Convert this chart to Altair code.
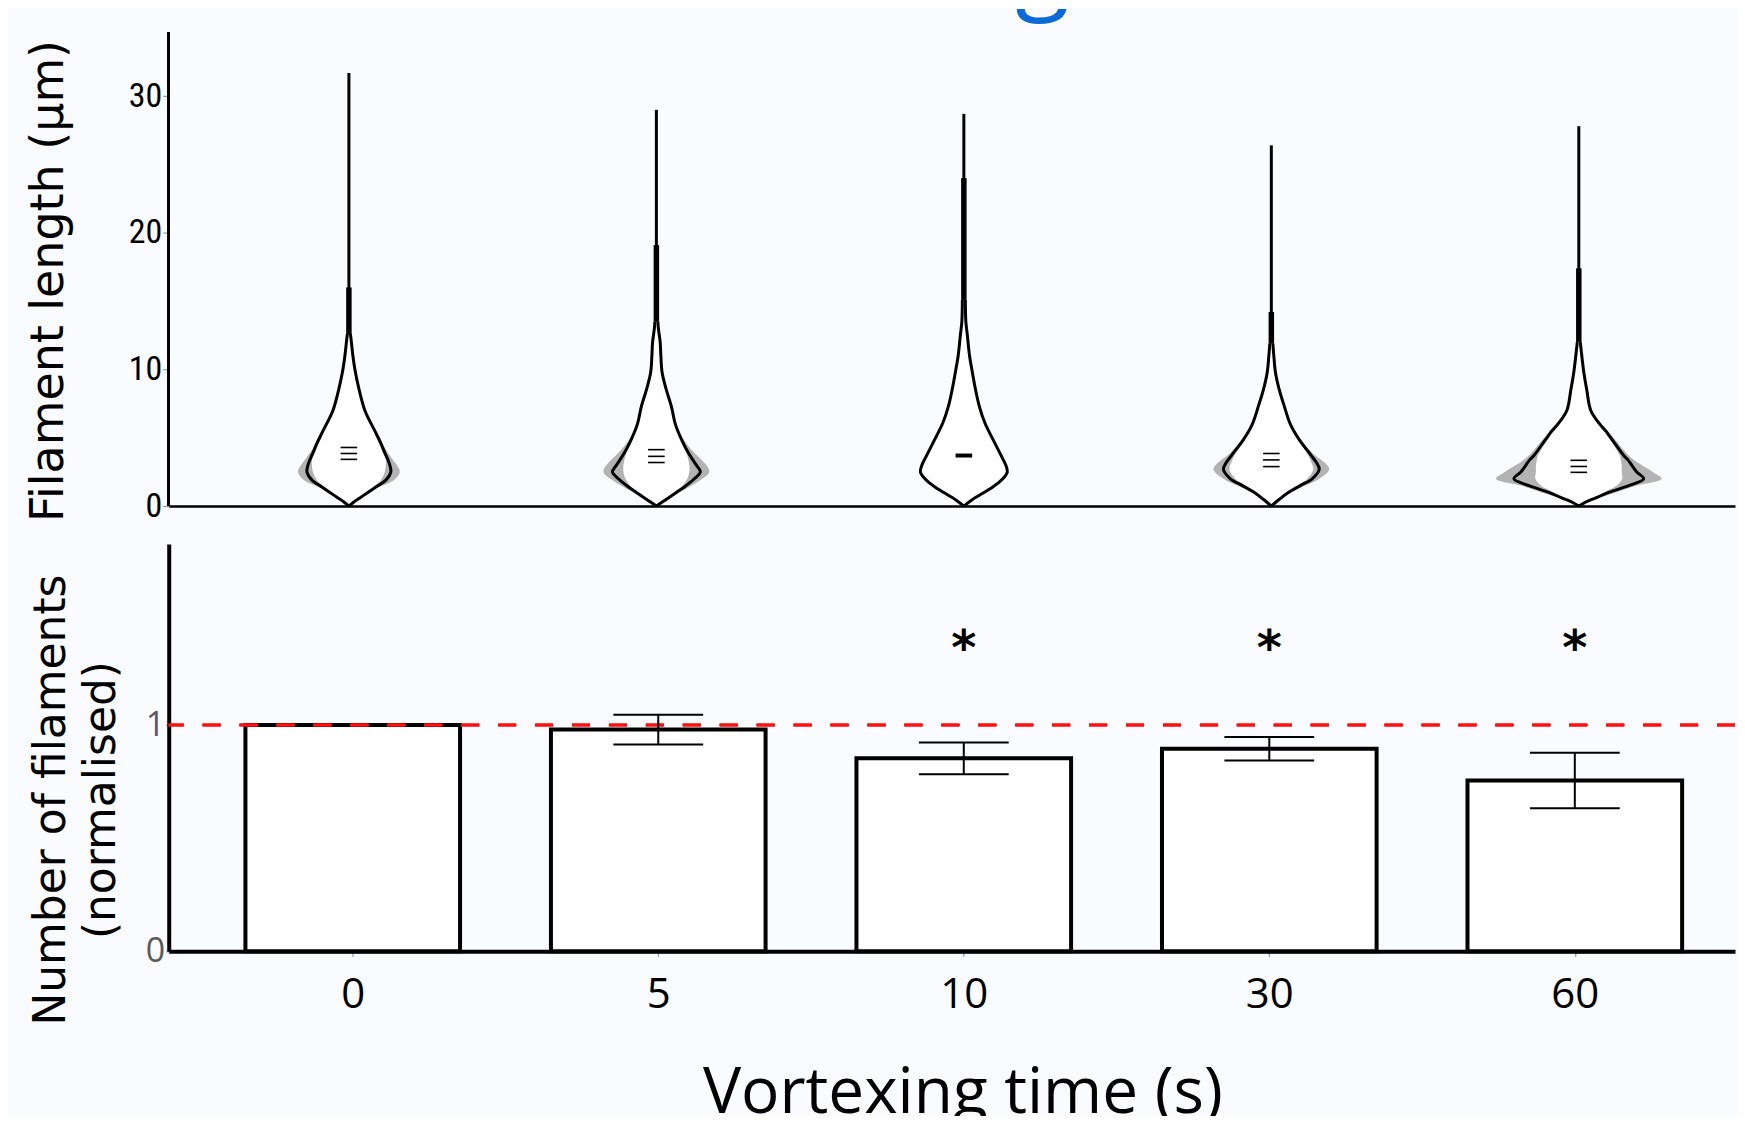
import json
import altair as alt
import pandas as pd

# ---------------- data ----------------
TIMES = ["0", "5", "10", "30", "60"]

# violin profiles: filament length (µm) and half-widths (relative density units)
V_Y = [
    [0, 0.3, 0.65, 1.0, 1.4, 1.9, 2.5, 3.0, 3.4, 3.9, 4.6, 5.5, 7.0, 8.6, 10.0, 11.0, 12.0, 12.6],
    [0, 0.45, 1.0, 1.4, 2.0, 2.5, 3.0, 3.9, 4.9, 6.0, 7.3, 8.5, 9.8, 11.0, 12.0, 13.0, 13.5],
    [0, 0.45, 1.4, 2.0, 2.5, 3.0, 3.6, 4.9, 6.1, 7.3, 8.6, 9.8, 11.0, 12.5, 13.5, 15.1],
    [0, 0.5, 1.0, 1.5, 2.0, 2.7, 3.2, 3.7, 4.9, 6.0, 7.35, 8.5, 9.8, 11.0, 11.9],
    [0, 0.3, 0.6, 1.0, 1.5, 2.0, 2.5, 3.0, 3.4, 3.7, 4.9, 5.5, 6.0, 7.0, 8.5, 9.8, 11.0, 12.0],
]
V_MID = [
    [0, 5, 12, 19, 27, 37, 42, 41, 39, 36, 32, 26, 16, 10, 6, 4, 2.5, 1.5],
    [0, 9, 20, 28, 38, 44, 40, 32, 25, 19, 15, 10, 5.7, 4.5, 3.8, 2, 1.5],
    [0, 8, 29, 39, 43.5, 42, 38, 29, 21, 15.5, 11.5, 8.5, 5.7, 3.5, 2, 1.5],
    [0, 8, 17, 29, 41, 48, 45, 40, 27.6, 19, 12.8, 8, 4.1, 2.5, 1.5],
    [0, 7, 17, 30, 50, 65, 58, 53, 49, 45, 33, 27, 21, 12, 8, 5, 3, 1.5],
]
V_LO = [
    [0, 5, 12, 18, 25, 32, 36, 37, 37, 34, 30, 25, 16, 10, 6, 4, 2.5, 1.5],
    [0, 9, 18, 25, 31, 33, 33, 30, 24, 19, 15, 10, 5.7, 4.5, 3.8, 2, 1.5],
    [0, 8, 29, 39, 43.5, 42, 38, 29, 21, 15.5, 11.5, 8.5, 5.7, 3.5, 2, 1.5],
    [0, 8, 16, 26, 36, 42, 40, 37, 27, 19, 12.8, 8, 4.1, 2.5, 1.5],
    [0, 6, 15, 25, 38, 43.5, 43, 43, 42, 41, 31, 25, 19, 11, 7, 5, 3, 1.5],
]
V_HI = [
    [0, 6, 13, 21, 30, 45, 51, 48, 44, 39, 33, 27, 17, 10, 6, 4, 2.5, 1.5],
    [0, 10, 23, 33, 46, 53, 50, 38, 27, 20, 15, 10, 5.7, 4.5, 3.8, 2, 1.5],
    [0, 8, 29, 39, 44.5, 42.5, 38, 29, 21, 15.5, 11.5, 8.5, 5.7, 3.5, 2, 1.5],
    [0, 9, 19, 34, 48, 58, 53, 44, 29, 20, 13, 8, 4.1, 2.5, 1.5],
    [0, 8, 20, 37, 58, 83, 74, 63, 55, 50, 36, 29, 23, 13, 9, 5, 3, 1.5],
]
V_MAX = [31.7, 29.0, 28.7, 26.4, 27.8]
V_THICK_LO = [12.6, 13.5, 15.1, 11.9, 12.0]
V_THICK_HI = [16.0, 19.1, 24.0, 14.2, 17.4]
V_MARKS = [[4.29, 3.85, 3.42], [4.13, 3.64, 3.19], [3.7], [3.85, 3.38, 2.89], [3.35, 2.9, 2.47]]

BAR_MEAN = [1.0, 0.98, 0.853, 0.895, 0.755]
BAR_ERR = [0.0, 0.066, 0.07, 0.052, 0.123]
SIGNIF = ["", "", "*", "*", "*"]

TITLE_FRAGMENT = "g"

# ---------------- tables ----------------
rows = []
for i in range(len(TIMES)):
    for y, m, lo, hi in zip(V_Y[i], V_MID[i], V_LO[i], V_HI[i]):
        rows.append({"idx": i, "len": y, "mid": m, "lo": lo, "hi": hi})
violin = pd.DataFrame(rows)

whisk = pd.DataFrame({
    "idx": list(range(len(TIMES))),
    "ptop": [v[-1] for v in V_Y],
    "vmax": V_MAX,
    "tlo": V_THICK_LO,
    "thi": V_THICK_HI,
})

mk_rows = []
for i, vals in enumerate(V_MARKS):
    for v in vals:
        mk_rows.append({"idx": i, "my": v, "single": len(vals) == 1})
marks = pd.DataFrame(mk_rows)

bars = pd.DataFrame({
    "idx": list(range(len(TIMES))),
    "mean": BAR_MEAN,
    "err": BAR_ERR,
    "sig": SIGNIF,
})

# ---------------- scales / styles ----------------
K = 1 / 308.0          # density unit -> x units
XDOM = [-0.586, 4.508]
xscale = alt.Scale(domain=XDOM, nice=False, zero=False)
Y1DOM = [0, 36.38]
Y1_AXIS_TOP = 34.7
W = 1569
H1 = 498
H2 = 408
BG = "#fafbfe"
CURVE = "catmull-rom"
NARROW = "Roboto Condensed, Liberation Sans Narrow, DejaVu Sans Condensed, Roboto, sans-serif"

top_x_axis = alt.Axis(labels=False, ticks=False, title=None, grid=False,
                      domain=True, domainColor="black", domainWidth=2.5)
y1scale = alt.Scale(domain=Y1DOM, nice=False, zero=True)
y_top_axis = alt.Axis(values=[0, 10, 20, 30], domain=False, grid=False,
                      tickSize=6, tickColor="#888888", tickWidth=1,
                      labelFont=NARROW, labelFontSize=34,
                      labelColor="black", labelPadding=1,
                      title="Filament length (µm)", titleFont="DejaVu Sans",
                      titleFontSize=46, titleFontWeight="normal", titleColor="black",
                      titleX=-120, titleY=272, titleAngle=270,
                      titleAlign="center", titleBaseline="middle")

vbase = alt.Chart(violin).transform_calculate(
    xl_hi=f"datum.idx - datum.hi*{K}", xr_hi=f"datum.idx + datum.hi*{K}",
    xl_lo=f"datum.idx - datum.lo*{K}", xr_lo=f"datum.idx + datum.lo*{K}",
    xl_mid=f"datum.idx - datum.mid*{K}", xr_mid=f"datum.idx + datum.mid*{K}",
)

yv = alt.Y("len:Q", scale=y1scale, axis=y_top_axis)

gray = vbase.mark_area(orient="horizontal", color="#b3b3b3", interpolate=CURVE).encode(
    y=yv, x=alt.X("xl_hi:Q", scale=xscale, axis=top_x_axis), x2="xr_hi:Q", detail="idx:N")
white = vbase.mark_area(orient="horizontal", color="white", interpolate=CURVE).encode(
    y="len:Q", x=alt.X("xl_lo:Q", scale=xscale), x2="xr_lo:Q", detail="idx:N")
left = vbase.mark_line(color="black", strokeWidth=3, interpolate=CURVE).encode(
    y="len:Q", x=alt.X("xl_mid:Q", scale=xscale), detail="idx:N", order="len:Q")
right = vbase.mark_line(color="black", strokeWidth=3, interpolate=CURVE).encode(
    y="len:Q", x=alt.X("xr_mid:Q", scale=xscale), detail="idx:N", order="len:Q")

thin = alt.Chart(whisk).mark_rule(color="black", strokeWidth=3).encode(
    x=alt.X("idx:Q", scale=xscale), y="ptop:Q", y2="vmax:Q")
thick = alt.Chart(whisk).mark_rule(color="black", strokeWidth=5.5).encode(
    x=alt.X("idx:Q", scale=xscale), y="tlo:Q", y2="thi:Q")

mbase = alt.Chart(marks).transform_calculate(
    ml="datum.idx - 0.027", mr="datum.idx + 0.027")
m3 = mbase.transform_filter("!datum.single").mark_rule(color="black", strokeWidth=1.6).encode(
    x=alt.X("ml:Q", scale=xscale), x2="mr:Q", y="my:Q")
m1 = mbase.transform_filter("datum.single").mark_rule(color="black", strokeWidth=4).encode(
    x=alt.X("ml:Q", scale=xscale), x2="mr:Q", y="my:Q")

yaxis_line = alt.Chart(whisk).mark_rule(color="black", strokeWidth=2.5).encode(
    x=alt.value(0), y=alt.datum(0), y2=alt.datum(Y1_AXIS_TOP))

frag = alt.Chart(whisk).transform_aggregate(n="count()").mark_text(
    text=TITLE_FRAGMENT, font="Open Sans", fontSize=100, color="#0b6ad6",
    baseline="alphabetic", align="center", clip=True
).encode(x=alt.datum(2.255), y=alt.datum(37.05))

top = alt.layer(gray, white, left, right, thin, thick, m3, m1, yaxis_line, frag).properties(
    width=W, height=H1)

# ---------------- bottom panel ----------------
label_expr = f"{json.dumps(TIMES)}[datum.value]"
x_bot = alt.X("idx:Q", scale=xscale,
              axis=alt.Axis(values=list(range(len(TIMES))), labelExpr=label_expr,
                            grid=False, domainColor="black", domainWidth=4,
                            tickColor="#888888", tickWidth=1, tickSize=5,
                            labelFont="Open Sans", labelFontSize=42, labelColor="black",
                            labelPadding=18,
                            title="Vortexing time (s)", titleFont="Open Sans",
                            titleFontSize=64, titleFontWeight="normal", titleColor="black",
                            titleX=795, titleAlign="center",
                            titlePadding=46))
y2scale = alt.Scale(domain=[0, 1.8], nice=False)
y_bot = alt.Y("mean:Q", scale=y2scale,
              axis=alt.Axis(values=[0, 1], format="d", grid=False,
                            domainColor="black", domainWidth=4,
                            tickSize=3, tickColor="#888888", tickWidth=1,
                            labelFont="Open Sans", labelFontSize=34, labelColor="#5a5a5a",
                            labelPadding=1,
                            title=["Number of filaments", "(normalised)"],
                            titleFont="DejaVu Sans", titleFontSize=44,
                            titleFontWeight="normal", titleColor="black",
                            titleLineHeight=50,
                            titleX=-117, titleY=256, titleAngle=270,
                            titleAlign="center", titleBaseline="middle"))

bbase = alt.Chart(bars)
barm = bbase.mark_bar(size=215, fill="white", stroke="black", strokeWidth=4).encode(
    x=x_bot, y=y_bot)
ref = bbase.mark_rule(color="#ff1010", strokeWidth=2.5, strokeDash=[18, 19]).encode(
    y=alt.datum(1))
ebase = bbase.transform_filter("datum.err > 0").transform_calculate(
    lo="datum.mean - datum.err", hi="datum.mean + datum.err",
    cl="datum.idx - 0.147", cr="datum.idx + 0.147")
evert = ebase.mark_rule(color="black", strokeWidth=2).encode(
    x=alt.X("idx:Q", scale=xscale), y="lo:Q", y2="hi:Q")
ecap_hi = ebase.mark_rule(color="black", strokeWidth=2).encode(
    x=alt.X("cl:Q", scale=xscale), x2="cr:Q", y="hi:Q")
ecap_lo = ebase.mark_rule(color="black", strokeWidth=2).encode(
    x=alt.X("cl:Q", scale=xscale), x2="cr:Q", y="lo:Q")
stars = bbase.transform_filter("datum.sig != ''").mark_text(
    font="DejaVu Sans", fontWeight="bold", fontSize=48, color="black",
    baseline="middle", align="center", dy=9).encode(
    x=alt.X("idx:Q", scale=xscale), y=alt.datum(1.373), text="sig:N")

bottom = alt.layer(barm, ref, evert, ecap_hi, ecap_lo, stars).properties(width=W, height=H2)

chart = alt.vconcat(top, bottom, spacing=21).properties(
    padding={"left": 17, "top": 0, "right": 0, "bottom": -10},
    background=BG,
).configure_view(stroke=None)

chart.save("out.html", embed_options={"renderer": "svg", "actions": False})
